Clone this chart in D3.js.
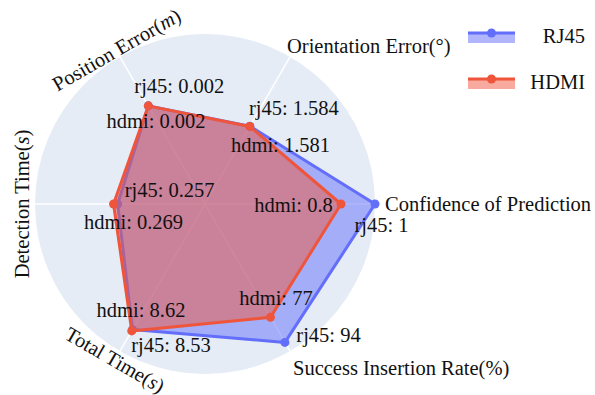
<!DOCTYPE html>
<html>
<head>
<meta charset="utf-8">
<script src="https://cdn.jsdelivr.net/npm/d3@7/dist/d3.min.js"></script>
<style>
  html, body { margin: 0; padding: 0; background: #fff; }
  svg { display: block; }
  text { font-family: "Liberation Serif", "Times New Roman", serif; fill: #111; }
</style>
</head>
<body>
<svg id="chart" width="595" height="395"></svg>
<script>
// ---- data ----
const categories = ["Confidence of Prediction", "Orientation Error", "Position Error", "Detection Time", "Total Time", "Success Insertion Rate"];
const units = ["", "°", "m", "s", "s", "%"];
const unitItalic = [false, false, true, true, true, false];
const axisMax = [1, 3, 0.003, 0.5, 10, 100];
const seriesNames = ["RJ45", "HDMI"];
const labelPrefix = ["rj45", "hdmi"];
const rj45Values = [1, 1.584, 0.002, 0.257, 8.53, 94];
const hdmiValues = [0.8, 1.581, 0.002, 0.269, 8.62, 77];
const seriesColors = ["#636EFA", "#EF553B"];

// ---- layout ----
const W = 595, H = 395;
const cx = 205, cy = 204, R = 170;
const FS = 20.5;
const svg = d3.select("#chart");

const rScale = d3.scaleLinear().domain([0, 1]).range([0, R]);
const angleScale = d3.scaleLinear().domain([0, categories.length]).range([0, 2 * Math.PI]); // ccw from east

function pt(i, frac) {
  const a = angleScale(i);
  const r = rScale(frac);
  return [cx + r * Math.cos(a), cy - r * Math.sin(a)];
}

const g = svg.append("g");
// polar background
g.append("circle").attr("cx", cx).attr("cy", cy).attr("r", R).attr("fill", "#E5ECF6");
// spokes
categories.forEach((c, i) => {
  const [x, y] = pt(i, 1);
  g.append("line").attr("x1", cx).attr("y1", cy).attr("x2", x).attr("y2", y)
    .attr("stroke", "#fff").attr("stroke-width", 1.5);
});

// axis labels
const axisLabelLayout = [
  { dx: 10, dy: 7, anchor: "start", rot: 0, extra: 0 },
  { dx: -3, dy: -4, anchor: "start", rot: 0, extra: 0 },
  { dx: 0, dy: -1, anchor: "middle", rot: -30, extra: 0 },
  { dx: -6.5, dy: 0, anchor: "middle", rot: -90, extra: 0 },
  { dx: 0, dy: 0, anchor: "middle", rot: 30, extra: 17 },
  { dx: 3, dy: 24, anchor: "start", rot: 0, extra: 0 }
];
categories.forEach((c, i) => {
  const L = axisLabelLayout[i];
  const [x0, y0] = pt(i, (R + L.extra) / R);
  const x = x0 + L.dx, y = y0 + L.dy;
  const t = g.append("text")
    .attr("transform", `translate(${x},${y}) rotate(${L.rot})`)
    .attr("text-anchor", L.anchor)
    .attr("font-size", FS);
  if (units[i]) {
    t.append("tspan").text(c + "(");
    t.append("tspan").text(units[i]).attr("font-style", unitItalic[i] ? "italic" : "normal");
    t.append("tspan").text(")");
  } else {
    t.text(c);
  }
});

// series
const allValues = [rj45Values, hdmiValues];
const radial = d3.lineRadial()
  .angle((d, i) => Math.PI / 2 - angleScale(i))
  .radius(d => rScale(d))
  .curve(d3.curveLinearClosed);

const normalized = allValues.map(vals => vals.map((v, i) => v / axisMax[i]));

normalized.forEach((vals, s) => {
  const sg = g.append("g").attr("transform", `translate(${cx},${cy})`);
  sg.append("path").attr("d", radial(vals))
    .attr("fill", seriesColors[s]).attr("fill-opacity", 0.5)
    .attr("stroke", seriesColors[s]).attr("stroke-width", 3).attr("stroke-linejoin", "round");
  vals.forEach((v, i) => {
    const [x, y] = pt(i, v);
    g.append("circle").attr("cx", x).attr("cy", y).attr("r", 4.5).attr("fill", seriesColors[s]);
  });
});

// value labels (offset from the point, centered)
const labelOffsets = [
  [[6.5, 28], [44, -11], [31, -12.5], [52, -7], [38.5, 22], [43.6, 0]],
  [[-47.5, 8], [30.7, 25.6], [7.7, 22], [20, 25], [9.3, -14], [5.5, -12]]
];
normalized.forEach((vals, s) => {
  vals.forEach((v, i) => {
    const [x, y] = pt(i, v);
    const [dx, dy] = labelOffsets[s][i];
    g.append("text").attr("x", x + dx).attr("y", y + dy)
      .attr("text-anchor", "middle").attr("font-size", FS)
      .text(`${labelPrefix[s]}: ${allValues[s][i]}`);
  });
});

// legend
const legendLayout = { x0: 468, x1: 515, textX: 585, y: [33, 79] };
seriesNames.forEach((name, s) => {
  const y = legendLayout.y[s];
  const lg = svg.append("g");
  lg.append("rect").attr("x", legendLayout.x0).attr("y", y).attr("width", legendLayout.x1 - legendLayout.x0).attr("height", 10)
    .attr("fill", seriesColors[s]).attr("fill-opacity", 0.5);
  lg.append("line").attr("x1", legendLayout.x0).attr("x2", legendLayout.x1).attr("y1", y).attr("y2", y)
    .attr("stroke", seriesColors[s]).attr("stroke-width", 3);
  lg.append("circle").attr("cx", (legendLayout.x0 + legendLayout.x1) / 2).attr("cy", y).attr("r", 4.5).attr("fill", seriesColors[s]);
  lg.append("text").attr("x", legendLayout.textX).attr("y", y + 9.5).attr("text-anchor", "end")
    .attr("font-size", FS).text(name);
});
</script>
</body>
</html>
